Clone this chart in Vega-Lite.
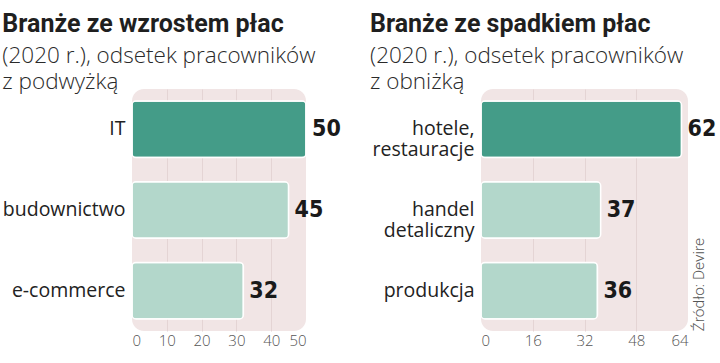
{
  "$schema": "https://vega.github.io/schema/vega-lite/v6.json",
  "padding": {"left": 2, "top": 11, "right": 0, "bottom": 0},
  "background": "#ffffff",
  "spacing": 29,
  "hconcat": [
    {
      "width": 174,
      "height": 242,
      "title": {
        "text": "Branże ze wzrostem płac",
        "subtitle": ["(2020 r.), odsetek pracowników", "z podwyżką"]
      },
      "data": {"values": [
        {"cat": "IT", "value": 50, "hl": "tak"},
        {"cat": "budownictwo", "value": 45, "hl": "nie"},
        {"cat": "e-commerce", "value": 32, "hl": "nie"}
      ]},
      "encoding": {
        "y": {"field": "cat", "type": "nominal", "sort": null, "title": null,
              "scale": {"paddingInner": 0.3, "paddingOuter": 0.15}},
        "x": {"field": "value", "type": "quantitative", "title": null,
              "scale": {"domain": [0, 50], "nice": false},
              "axis": {"values": [0, 10, 20, 30, 40, 50],
                       "gridColor": {"condition": {"test": "datum.value == 0 || datum.value == 50", "value": "transparent"}, "value": "#e4d4d4"}}}
      },
      "layer": [
        {"mark": {"type": "bar", "cornerRadius": 4, "stroke": "#ffffff", "strokeWidth": 1.5},
         "encoding": {"color": {"field": "hl", "type": "nominal", "legend": null,
           "scale": {"domain": ["tak", "nie"], "range": ["#449c88", "#b3d7cb"]}}}},
        {"mark": {"type": "text", "align": "left", "baseline": "middle", "dx": 6,
                  "font": "DejaVu Sans Condensed", "fontWeight": "bold", "fontSize": 23, "color": "#1a1a1a"},
         "encoding": {"text": {"field": "value", "type": "quantitative"}}}
      ]
    },
    {
      "width": 207,
      "height": 242,
      "title": {
        "text": "Branże ze spadkiem płac",
        "subtitle": ["(2020 r.), odsetek pracowników", "z obniżką"],
        "dx": -2
      },
      "data": {"values": [
        {"cat": "hotele,|restauracje", "value": 62, "hl": "tak"},
        {"cat": "handel|detaliczny", "value": 37, "hl": "nie"},
        {"cat": "produkcja", "value": 36, "hl": "nie"}
      ]},
      "encoding": {
        "y": {"field": "cat", "type": "nominal", "sort": null, "title": null,
              "scale": {"paddingInner": 0.3, "paddingOuter": 0.15},
              "axis": {"labelExpr": "split(datum.label, '|')"}},
        "x": {"field": "value", "type": "quantitative", "title": null,
              "scale": {"domain": [0, 64], "nice": false},
              "axis": {"values": [0, 16, 32, 48, 64],
                       "gridColor": {"condition": {"test": "datum.value == 0 || datum.value == 64", "value": "transparent"}, "value": "#e4d4d4"}}}
      },
      "resolve": {"axis": {"y": "independent"}},
      "layer": [
        {"mark": {"type": "bar", "cornerRadius": 4, "stroke": "#ffffff", "strokeWidth": 1.5},
         "encoding": {"color": {"field": "hl", "type": "nominal", "legend": null,
           "scale": {"domain": ["tak", "nie"], "range": ["#449c88", "#b3d7cb"]}}}},
        {"mark": {"type": "text", "align": "left", "baseline": "middle", "dx": 6,
                  "font": "DejaVu Sans Condensed", "fontWeight": "bold", "fontSize": 23, "color": "#1a1a1a"},
         "encoding": {
           "text": {"field": "value", "type": "quantitative"},
           "y": {"field": "cat", "type": "nominal", "sort": null,
                 "axis": {"orient": "right", "title": "Źródło: Devire", "labels": false, "ticks": false,
                          "domain": false, "titleAngle": -90, "titleAnchor": "end", "titleAlign": "left",
                          "titleBaseline": "middle", "titlePadding": 10,
                          "titleFont": "Roboto", "titleFontWeight": 300, "titleFontSize": 15.5, "titleColor": "#555555"}}
         }}
      ]
    }
  ],
  "config": {
    "view": {"fill": "#f1e5e5", "stroke": null, "cornerRadius": 12},
    "title": {
      "anchor": "start", "frame": "bounds", "offset": -4,
      "font": "Roboto", "fontSize": 25, "fontWeight": "bold", "color": "#1f1f1f",
      "subtitleFont": "Open Sans", "subtitleFontSize": 22.5, "subtitleFontWeight": 300, "subtitleColor": "#2a2a2a",
      "subtitleLineHeight": 26, "subtitlePadding": 8
    },
    "axisY": {
      "domain": false, "ticks": false, "grid": false,
      "labelFont": "Open Sans", "labelFontSize": 19.5, "labelColor": "#222222", "labelPadding": 7,
      "labelLineHeight": 21
    },
    "axisX": {
      "domain": false, "ticks": false, "grid": true, "gridWidth": 1,
      "labelFont": "Open Sans", "labelFontSize": 15, "labelColor": "#555555", "labelPadding": 2,
      "labelFontWeight": 300
    }
  }
}
